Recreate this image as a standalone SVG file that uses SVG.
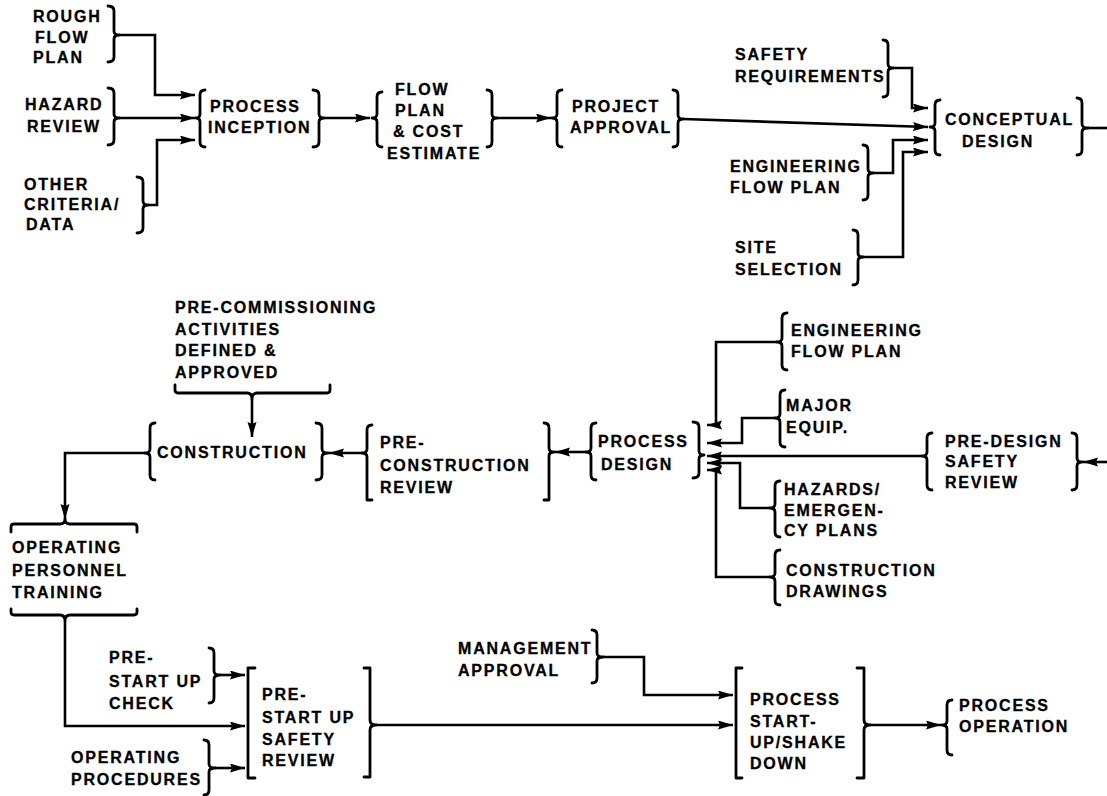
<svg xmlns="http://www.w3.org/2000/svg" width="1107" height="796" viewBox="0 0 1107 796">
<defs>
<style>
.t{font-family:"Liberation Sans",Arial,sans-serif;font-weight:bold;font-size:16px;letter-spacing:1.8px;fill:#000;stroke:#000;stroke-width:0.3}
.b{fill:none;stroke:#000;stroke-width:2.8;stroke-linecap:round;stroke-linejoin:round}
.c{fill:none;stroke:#000;stroke-width:2.6;stroke-linejoin:miter}
.a{marker-end:url(#ah)}
</style>
<marker id="ah" markerUnits="userSpaceOnUse" markerWidth="18" markerHeight="10" refX="15" refY="4.5" orient="auto">
<path d="M0,0 L15,4.5 L0,9 L2,4.5 z" fill="#000"/>
</marker>
</defs>
<rect width="1107" height="796" fill="#fff"/>

<g id="connectors">
<path class="c a" d="M119,35 H155 V95 H195"/>
<path class="c a" d="M119,118 H195"/>
<path class="c a" d="M148,205 H157 V140 H195"/>
<path class="c a" d="M324,118 H370"/>
<path class="c a" d="M497,118 H551"/>
<path class="c a" d="M683,119 L928,127"/>
<path class="c a" d="M893,68 H912 V108 H928"/>
<path class="c a" d="M873,173 H893 V140 H928"/>
<path class="c a" d="M863,257 H903 V152 H928"/>
<path class="c" d="M1088,128 H1107"/>
<path class="c a" d="M1107,462 H1083"/>
<path class="c a" d="M922,456 H707"/>
<path class="c a" d="M777,342 H716 V425 H707"/>
<path class="c a" d="M775,418 H742 V443 H707"/>
<path class="c a" d="M770,508 H740 V463 H707"/>
<path class="c a" d="M770,577 H716 V470 H707"/>
<path class="c a" d="M586,452 H555"/>
<path class="c a" d="M362,453 H329"/>
<path class="c a" d="M145,453 H65 V519"/>
<path class="c a" d="M252,399 V437"/>
<path class="c a" d="M65,621 V726 H245"/>
<path class="c a" d="M220,675 H245"/>
<path class="c a" d="M215,768 H245"/>
<path class="c a" d="M376,725 H733"/>
<path class="c a" d="M603,657 H644 V695 H733"/>
<path class="c a" d="M870,725 H941"/>
</g>

<g id="rough-flow-plan">
<path class="b" d="M108,6 Q114,6 114,11 L114,31 Q114,35 119,35 Q114,35 114,39 L114,57 Q114,62 108,62"/>
<text class="t" x="33" y="22">ROUGH</text>
<text class="t" x="35" y="43">FLOW</text>
<text class="t" x="33" y="63">PLAN</text>
</g>
<g id="hazard-review">
<path class="b" d="M108,88 Q114,88 114,93 L114,114 Q114,118 119,118 Q114,118 114,122 L114,140 Q114,145 108,145"/>
<text class="t" x="25" y="110">HAZARD</text>
<text class="t" x="27" y="132">REVIEW</text>
</g>
<g id="other-criteria">
<path class="b" d="M137,177 Q143,177 143,182 L143,201 Q143,205 148,205 Q143,205 143,209 L143,228 Q143,233 137,233"/>
<text class="t" x="24" y="190">OTHER</text>
<text class="t" x="24" y="210">CRITERIA/</text>
<text class="t" x="26" y="230">DATA</text>
</g>
<g id="process-inception">
<path class="b" d="M205,90 Q200,90 200,95 L200,114 Q200,118 196,118 Q200,118 200,122 L200,142 Q200,147 205,147"/>
<path class="b" d="M313,90 Q319,90 319,95 L319,114 Q319,118 324,118 Q319,118 319,122 L319,142 Q319,147 313,147"/>
<text class="t" x="210" y="112">PROCESS</text>
<text class="t" x="208" y="133">INCEPTION</text>
</g>
<g id="flow-plan-cost">
<path class="b" d="M382,92 Q377,92 377,97 L377,114 Q377,118 372,118 Q377,118 377,122 L377,142 Q377,147 382,147"/>
<path class="b" d="M487,90 Q492,90 492,95 L492,114 Q492,118 497,118 Q492,118 492,122 L492,142 Q492,147 487,147"/>
<text class="t" x="395" y="95">FLOW</text>
<text class="t" x="395" y="116">PLAN</text>
<text class="t" x="393" y="137">&amp; COST</text>
<text class="t" x="387" y="159">ESTIMATE</text>
</g>
<g id="project-approval">
<path class="b" d="M562,90 Q557,90 557,95 L557,114 Q557,118 552,118 Q557,118 557,122 L557,142 Q557,147 562,147"/>
<path class="b" d="M673,90 Q678,90 678,95 L678,115 Q678,119 683,119 Q678,119 678,123 L678,142 Q678,147 673,147"/>
<text class="t" x="572" y="112">PROJECT</text>
<text class="t" x="570" y="133">APPROVAL</text>
</g>
<g id="safety-requirements">
<path class="b" d="M883,40 Q888,40 888,45 L888,64 Q888,68 893,68 Q888,68 888,72 L888,92 Q888,97 883,97"/>
<text class="t" x="735" y="60">SAFETY</text>
<text class="t" x="735" y="82">REQUIREMENTS</text>
</g>
<g id="conceptual-design">
<path class="b" d="M940,100 Q935,100 935,105 L935,123 Q935,127 930,127 Q935,127 935,131 L935,150 Q935,155 940,155"/>
<path class="b" d="M1077,98 Q1082,98 1082,103 L1082,124 Q1082,128 1088,128 Q1082,128 1082,132 L1082,150 Q1082,155 1077,155"/>
<text class="t" x="945" y="125">CONCEPTUAL</text>
<text class="t" x="962" y="147">DESIGN</text>
</g>
<g id="engineering-flow-plan-1">
<path class="b" d="M863,145 Q868,145 868,150 L868,169 Q868,173 873,173 Q868,173 868,177 L868,195 Q868,200 863,200"/>
<text class="t" x="730" y="172">ENGINEERING</text>
<text class="t" x="730" y="193">FLOW PLAN</text>
</g>
<g id="site-selection">
<path class="b" d="M853,230 Q858,230 858,235 L858,253 Q858,257 863,257 Q858,257 858,261 L858,280 Q858,285 853,285"/>
<text class="t" x="735" y="253">SITE</text>
<text class="t" x="735" y="275">SELECTION</text>
</g>

<g id="pre-commissioning">
<path class="b" d="M175,385 L175,390 Q175,393 178,393 L247,393 Q252,393 252,399 Q252,393 257,393 L327,393 Q330,393 330,390 L330,385"/>
<text class="t" x="175" y="313">PRE-COMMISSIONING</text>
<text class="t" x="175" y="335">ACTIVITIES</text>
<text class="t" x="175" y="356">DEFINED &amp;</text>
<text class="t" x="175" y="378">APPROVED</text>
</g>
<g id="construction">
<path class="b" d="M155,423 Q150,423 150,428 L150,449 Q150,453 145,453 Q150,453 150,457 L150,475 Q150,480 155,480"/>
<path class="b" d="M316,423 Q322,423 322,428 L322,449 Q322,453 328,453 Q322,453 322,457 L322,475 Q322,480 316,480"/>
<text class="t" x="157" y="458">CONSTRUCTION</text>
</g>
<g id="pre-construction-review">
<path class="b" d="M372,425 Q367,425 367,430 L367,449 Q367,453 362,453 Q367,453 367,457 L367,500 L372,500"/>
<path class="b" d="M544,423 Q549,423 549,428 L549,448 Q549,452 554,452 Q549,452 549,456 L549,500 L544,500"/>
<text class="t" x="380" y="448">PRE-</text>
<text class="t" x="380" y="471">CONSTRUCTION</text>
<text class="t" x="380" y="493">REVIEW</text>
</g>
<g id="process-design">
<path class="b" d="M596,423 Q591,423 591,428 L591,448 Q591,452 586,452 Q591,452 591,456 L591,475 Q591,480 596,480"/>
<path class="b" d="M693,422 Q699,422 699,427 L699,451 Q699,455 704,455 Q699,455 699,459 L699,473 Q699,478 693,478"/>
<text class="t" x="598" y="447">PROCESS</text>
<text class="t" x="601" y="470">DESIGN</text>
</g>
<g id="engineering-flow-plan-2">
<path class="b" d="M787,313 Q782,313 782,318 L782,338 Q782,342 777,342 Q782,342 782,346 L782,365 Q782,370 787,370"/>
<text class="t" x="791" y="336">ENGINEERING</text>
<text class="t" x="791" y="357">FLOW PLAN</text>
</g>
<g id="major-equip">
<path class="b" d="M785,390 Q780,390 780,395 L780,414 Q780,418 775,418 Q780,418 780,422 L780,442 Q780,447 785,447"/>
<text class="t" x="786" y="411">MAJOR</text>
<text class="t" x="786" y="433">EQUIP.</text>
</g>
<g id="pre-design-safety-review">
<path class="b" d="M932,433 Q927,433 927,438 L927,452 Q927,456 922,456 Q927,456 927,460 L927,485 Q927,490 932,490"/>
<path class="b" d="M1072,433 Q1077,433 1077,438 L1077,458 Q1077,462 1082,462 Q1077,462 1077,466 L1077,485 Q1077,490 1072,490"/>
<text class="t" x="945" y="447">PRE-DESIGN</text>
<text class="t" x="945" y="467">SAFETY</text>
<text class="t" x="945" y="488">REVIEW</text>
</g>
<g id="hazards-emergency-plans">
<path class="b" d="M780,481 Q775,481 775,486 L775,504 Q775,508 770,508 Q775,508 775,512 L775,532 Q775,537 780,537"/>
<text class="t" x="784" y="495">HAZARDS/</text>
<text class="t" x="784" y="516">EMERGEN-</text>
<text class="t" x="784" y="536">CY PLANS</text>
</g>
<g id="construction-drawings">
<path class="b" d="M780,550 Q775,550 775,555 L775,573 Q775,577 770,577 Q775,577 775,581 L775,600 Q775,605 780,605"/>
<text class="t" x="786" y="576">CONSTRUCTION</text>
<text class="t" x="786" y="597">DRAWINGS</text>
</g>
<g id="operating-personnel-training">
<path class="b" d="M11,532 L11,527 Q11,524 14,524 L60,524 Q65,524 65,519 Q65,524 70,524 L134,524 Q137,524 137,527 L137,532"/>
<path class="b" d="M11,609 L11,612 Q11,615 14,615 L60,615 Q65,615 65,621 Q65,615 70,615 L134,615 Q137,615 137,612 L137,609"/>
<text class="t" x="12" y="553">OPERATING</text>
<text class="t" x="12" y="576">PERSONNEL</text>
<text class="t" x="12" y="598">TRAINING</text>
</g>

<g id="pre-start-up-check">
<path class="b" d="M209,648 Q214,648 214,653 L214,671 Q214,675 220,675 Q214,675 214,679 L214,698 Q214,703 209,703"/>
<text class="t" x="109" y="663">PRE-</text>
<text class="t" x="109" y="687">START UP</text>
<text class="t" x="109" y="709">CHECK</text>
</g>
<g id="operating-procedures">
<path class="b" d="M204,740 Q209,740 209,745 L209,764 Q209,768 215,768 Q209,768 209,772 L209,790 Q209,795 204,795"/>
<text class="t" x="71" y="763">OPERATING</text>
<text class="t" x="71" y="785">PROCEDURES</text>
</g>
<g id="pre-start-up-safety-review">
<path class="b" d="M255,668 L248,668 L248,778 L255,778"/>
<path class="b" d="M364,668 L370,668 L370,720 Q370,725 376,725 Q370,725 370,730 L370,777 L364,777"/>
<text class="t" x="262" y="700">PRE-</text>
<text class="t" x="262" y="723">START UP</text>
<text class="t" x="262" y="745">SAFETY</text>
<text class="t" x="262" y="766">REVIEW</text>
</g>
<g id="management-approval">
<path class="b" d="M592,630 Q597,630 597,635 L597,653 Q597,657 603,657 Q597,657 597,661 L597,678 Q597,683 592,683"/>
<text class="t" x="458" y="654">MANAGEMENT</text>
<text class="t" x="458" y="676">APPROVAL</text>
</g>
<g id="process-start-up">
<path class="b" d="M742,668 L736,668 L736,778 L742,778"/>
<path class="b" d="M857,668 L864,668 L864,720 Q864,725 870,725 Q864,725 864,730 L864,778 L857,778"/>
<text class="t" x="750" y="705">PROCESS</text>
<text class="t" x="750" y="727">START-</text>
<text class="t" x="750" y="748">UP/SHAKE</text>
<text class="t" x="750" y="769">DOWN</text>
</g>
<g id="process-operation">
<path class="b" d="M952,700 Q947,700 947,705 L947,721 Q947,725 942,725 Q947,725 947,729 L947,750 Q947,755 952,755"/>
<text class="t" x="959" y="711">PROCESS</text>
<text class="t" x="959" y="732">OPERATION</text>
</g>
</svg>
